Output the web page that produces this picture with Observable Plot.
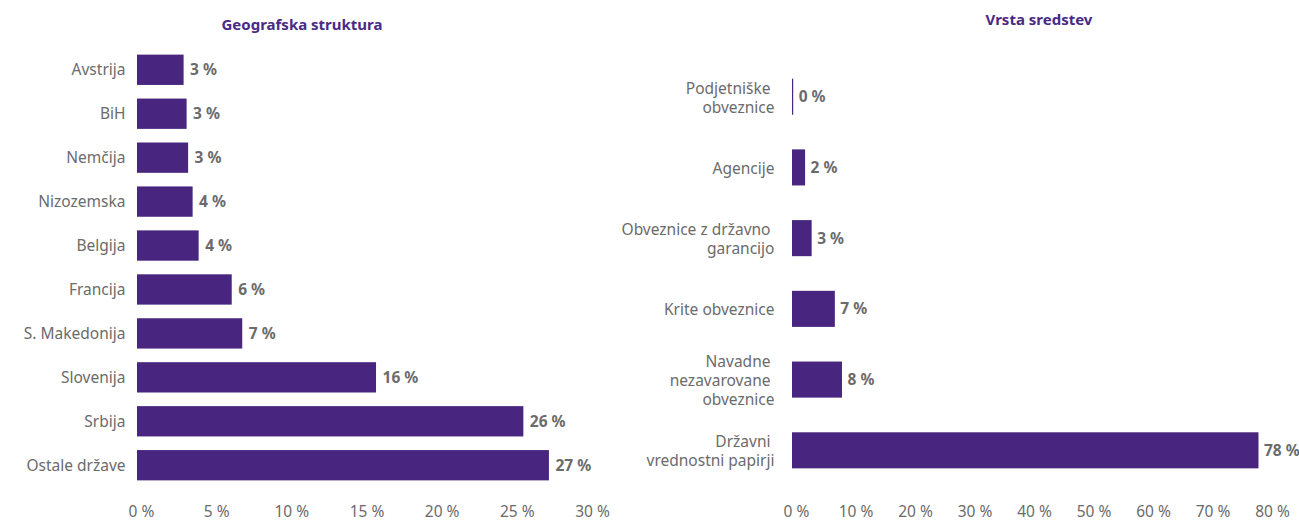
<!DOCTYPE html>
<html><head><meta charset="utf-8">
<script src="https://cdn.jsdelivr.net/npm/d3@7"></script>
<script src="https://cdn.jsdelivr.net/npm/@observablehq/plot@0.6"></script>
<style>
body{margin:0;background:#fff;font-family:"Noto Sans",sans-serif;}
#wrap{position:relative;width:1299px;height:520px;display:flex;}
.title{position:absolute;font-weight:bold;font-size:15px;color:#4a2a85;transform:translateX(-50%);white-space:nowrap;}
svg{overflow:visible}
</style></head>
<body>
<div id="wrap">
  <div id="left"></div>
  <div id="right"></div>
  <div class="title" id="t1" style="left:302px;top:14px"></div>
  <div class="title" id="t2" style="left:1039px;top:9px"></div>
</div>
<script>
const titleLeft = "Geografska struktura";
const titleRight = "Vrsta sredstev";
const countries = ["Avstrija","BiH","Nemčija","Nizozemska","Belgija","Francija","S. Makedonija","Slovenija","Srbija","Ostale države"];
const countryValues = [3.1,3.3,3.4,3.7,4.1,6.3,7.0,15.9,25.7,27.4];
const countryLabels = ["3 %","3 %","3 %","4 %","4 %","6 %","7 %","16 %","26 %","27 %"];
const leftTicks = [0,5,10,15,20,25,30];

const assets = ["Podjetniške\u00a0\nobveznice","Agencije","Obveznice z državno\u00a0\ngarancijo","Krite obveznice","Navadne\u00a0\nnezavarovane\u00a0\nobveznice","Državni\u00a0\nvrednostni papirji"];
const assetValues = [0.2,2.2,3.3,7.2,8.4,78.4];
const assetLabels = ["0 %","2 %","3 %","7 %","8 %","78 %"];
const rightTicks = [0,10,20,30,40,50,60,70,80];

const barColor = "#48267f";
const textColor = "#6b6b6b";
const font = "Noto Sans";
const fs = 15.5;

document.getElementById("t1").textContent = titleLeft;
document.getElementById("t2").textContent = titleRight;

const leftData = countries.map((c,i)=>({c, v:countryValues[i], l:countryLabels[i]}));
const rightData = assets.map((c,i)=>({c, v:assetValues[i], l:assetLabels[i]}));

const left = Plot.plot({
  width: 620, height: 520,
  marginLeft: 137, marginRight: 32, marginTop: 41, marginBottom: 26,
  style: {fontFamily: font, fontSize: fs + "px", color: textColor, background: "transparent"},
  x: {domain: [0,30], ticks: leftTicks},
  y: {domain: countries, padding: 0.31, round: false},
  marks: [
    Plot.barX(leftData, {x: "v", y: "c", fill: barColor}),
    Plot.text(leftData, {x: "v", y: "c", text: "l", textAnchor: "start", dx: 6, fill: textColor, fontWeight: "bold", fontSize: fs}),
    Plot.axisX({ticks: leftTicks, tickSize: 0, tickPadding: 11, tickFormat: d => d + " %", fill: textColor, fontSize: fs, dx: 4, label: null}),
    Plot.axisY({tickSize: 0, tickPadding: 12, fill: textColor, fontSize: fs, label: null})
  ]
});
document.getElementById("left").appendChild(left);

const right = Plot.plot({
  width: 679, height: 520,
  marginLeft: 172, marginRight: 31, marginTop: 44, marginBottom: 17,
  style: {fontFamily: font, fontSize: fs + "px", color: textColor, background: "transparent"},
  x: {domain: [0,80], ticks: rightTicks},
  y: {domain: assets, padding: 0.49, round: false},
  marks: [
    Plot.barX(rightData, {x: "v", y: "c", fill: barColor}),
    Plot.text(rightData, {x: "v", y: "c", text: "l", textAnchor: "start", dx: 5, fill: textColor, fontWeight: "bold", fontSize: fs}),
    Plot.axisX({ticks: rightTicks, tickSize: 0, tickPadding: 2, tickFormat: d => d + " %", fill: textColor, fontSize: fs, dx: 4, label: null}),
    Plot.axisY({tickSize: 0, tickPadding: 18, fill: textColor, fontSize: fs, lineHeight: 1.22, label: null})
  ]
});
document.getElementById("right").appendChild(right);
</script>
</body></html>
